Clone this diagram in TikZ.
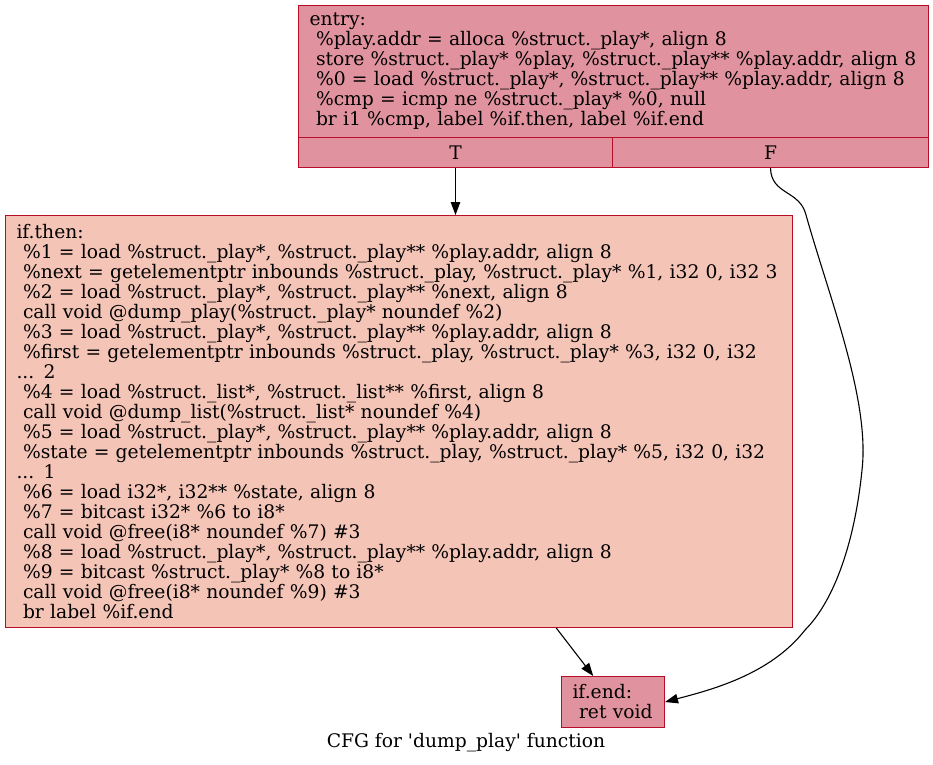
\documentclass[tikz,border=0pt]{standalone}
\usepackage{fontspec}
\setmainfont{DejaVu Serif}
\usepackage{tikz}
\usetikzlibrary{arrows.meta,positioning}
\definecolor{cfgline}{HTML}{B70D28}
\definecolor{cfghot}{HTML}{E0939E}
\definecolor{cfgwarm}{HTML}{F4C4B7}
\newcommand{\cfgfont}{\fontsize{18.7}{20}\selectfont}
\newcommand{\ind}{\hspace*{6.5pt}}
\tikzset{
  block/.style={rectangle, draw=cfgline, line width=1pt, anchor=north west,
                align=left, font=\cfgfont, inner xsep=11pt, inner ysep=0pt},
  port/.style={rectangle, draw=cfgline, line width=1pt, anchor=north west,
               fill=cfghot, font=\cfgfont, minimum height=30pt, inner sep=0pt},
  ar/.style={-{Triangle[length=13pt,width=9.5pt]}, draw=black, line width=1.1pt},
}

\begin{document}
\begin{tikzpicture}[x=1pt,y=-1pt]
\useasboundingbox (0,0) rectangle (933,764);

% ---------- entry ----------
\node[block,fill=cfghot,text width=608pt,minimum height=132pt] (entry) at (298,5)
   {entry:\\
    \ind\%play.addr = alloca \%struct.\_play*, align 8\\
    \ind store \%struct.\_play* \%play, \%struct.\_play** \%play.addr, align 8\\
    \ind\%0 = load \%struct.\_play*, \%struct.\_play** \%play.addr, align 8\\
    \ind\%cmp = icmp ne \%struct.\_play* \%0, null\\
    \ind br i1 \%cmp, label \%if.then, label \%if.end};
\node[port,minimum width=314pt] (T) at (298,137) {T};
\node[port,minimum width=316pt] (F) at (612,137) {F};

% ---------- if.then ----------
\node[block,fill=cfgwarm,text width=765pt,minimum height=412pt] (ifthen) at (5,215)
   {if.then:\\
    \ind\%1 = load \%struct.\_play*, \%struct.\_play** \%play.addr, align 8\\
    \ind\%next = getelementptr inbounds \%struct.\_play, \%struct.\_play* \%1, i32 0, i32 3\\
    \ind\%2 = load \%struct.\_play*, \%struct.\_play** \%next, align 8\\
    \ind call void @dump\_play(\%struct.\_play* noundef \%2)\\
    \ind\%3 = load \%struct.\_play*, \%struct.\_play** \%play.addr, align 8\\
    \ind\%first = getelementptr inbounds \%struct.\_play, \%struct.\_play* \%3, i32 0, i32\\
    ... 2\\
    \ind\%4 = load \%struct.\_list*, \%struct.\_list** \%first, align 8\\
    \ind call void @dump\_list(\%struct.\_list* noundef \%4)\\
    \ind\%5 = load \%struct.\_play*, \%struct.\_play** \%play.addr, align 8\\
    \ind\%state = getelementptr inbounds \%struct.\_play, \%struct.\_play* \%5, i32 0, i32\\
    ... 1\\
    \ind\%6 = load i32*, i32** \%state, align 8\\
    \ind\%7 = bitcast i32* \%6 to i8*\\
    \ind call void @free(i8* noundef \%7) \#3\\
    \ind\%8 = load \%struct.\_play*, \%struct.\_play** \%play.addr, align 8\\
    \ind\%9 = bitcast \%struct.\_play* \%8 to i8*\\
    \ind call void @free(i8* noundef \%9) \#3\\
    \ind br label \%if.end};

% ---------- if.end ----------
\node[block,fill=cfghot,text width=81pt,minimum height=51pt] (ifend) at (561,676)
   {if.end:\\
    \ind ret void};

% ---------- edges ----------
\draw[ar] (T.south) -- (T.south |- ifthen.north);
\draw[ar] (F.south) .. controls (771,195) and (800,190) .. (806,215)
      .. controls (830,300) and (870,400) .. (862,470)
      .. controls (855,540) and (835,600) .. (805,630)
      .. controls (770,675) and (710,690) .. (ifend.east);
\draw[ar] (ifthen) -- (ifend);

% ---------- caption ----------
\node[font=\cfgfont] (title) at (466,743) {CFG for \textquotesingle dump\_play\textquotesingle{} function};
\end{tikzpicture}
\end{document}
